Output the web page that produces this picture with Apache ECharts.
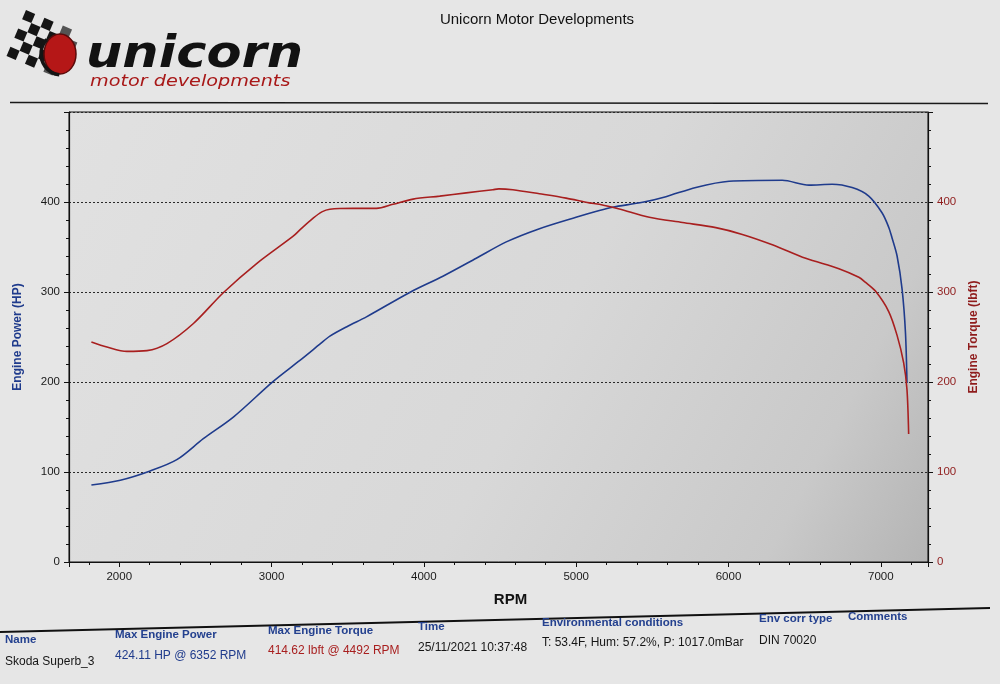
<!DOCTYPE html>
<html>
<head>
<meta charset="utf-8">
<script src="https://cdn.jsdelivr.net/npm/echarts@6/dist/echarts.min.js"></script>
<style>
html,body{margin:0;padding:0;background:#e6e6e6;}
#chart{width:1000px;height:684px;}
</style>
</head>
<body>
<div id="chart"></div>
<script>
// ---- Data read from the dyno sheet ----
const powerRpm = [1817, 2007, 2203, 2378, 2552, 2749, 3011, 3186, 3317, 3383, 3500, 3623, 3907, 4125, 4344, 4541, 4759, 4999, 5152, 5239, 5436, 5589, 5786, 6004, 6353, 6528, 6681, 6812, 6921, 7008, 7052, 7074, 7107, 7140, 7162, 7172];
const powerHp  = [85.5, 90.9, 101.2, 113.7, 137, 161, 200.7, 224, 242, 251, 262, 272.4, 299.5, 317.5, 337.5, 355.7, 370.4, 383.1, 390.6, 394.2, 399.7, 405.9, 416.2, 423, 424.1, 418.7, 419.8, 416, 406.6, 388, 372, 360, 340, 303, 255, 199];
const torqueRpm = [1817, 1919, 2050, 2182, 2313, 2487, 2683, 2902, 3142, 3186, 3273, 3330, 3383, 3535, 3689, 3797, 3929, 4104, 4278, 4453, 4492, 4584, 4759, 4934, 5086, 5152, 5283, 5480, 5698, 5917, 6091, 6288, 6507, 6725, 6856, 6900, 6965, 7052, 7107, 7150, 7172, 7183];
const torqueLbft = [244.5, 238.9, 234, 234.9, 242.7, 265, 299.2, 331.6, 362, 369, 382, 389, 392, 393, 392.9, 397.4, 403.2, 406.5, 410.1, 413.7, 414.6, 413.6, 409.1, 404.3, 399, 397.5, 392.2, 383, 377.2, 371.5, 364, 352.5, 337.4, 325.9, 316.3, 310.7, 301, 278.3, 251.8, 221.5, 191.5, 142.3];
const rpmTicks = [2000, 3000, 4000, 5000, 6000, 7000];
const leftTicks = [0, 100, 200, 300, 400];
const rightTicks = [0, 100, 200, 300, 400];

const title = 'Unicorn Motor Developments';
const tableHeads = ['Name', 'Max Engine Power', 'Max Engine Torque', 'Time', 'Environmental conditions', 'Env corr type', 'Comments'];
const tableVals  = ['Skoda Superb_3', '424.11 HP @ 6352 RPM', '414.62 lbft @ 4492 RPM', '25/11/2021 10:37:48', 'T: 53.4F, Hum: 57.2%, P: 1017.0mBar', 'DIN 70020', ''];

const BLUE = '#1f3b8c';
const RED = '#a81f1f';
const HEAD = '#24418f';

const chart = echarts.init(document.getElementById('chart'));

// checkered flag squares
const checkers = [];
for (let r = 0; r < 5; r++) {
  for (let c = 0; c < 6; c++) {
    if ((r + c) % 2 === 0) {
      checkers.push({type: 'rect', shape: {x: c * 10, y: r * 10, width: 10, height: 10},
        style: {fill: '#151515', opacity: c > 3 ? 0.7 : 1}});
    }
  }
}

const headX = [5, 115, 268, 418, 542, 759, 848];
const headY = [640, 635, 631, 627, 623, 619, 617];
const valY  = [662, 656, 651, 648, 643, 641, 640];
const valColors = ['#151515', BLUE, RED, '#151515', '#151515', '#151515', '#151515'];
const tableGraphics = [];
tableHeads.forEach((h, i) => {
  tableGraphics.push({type: 'text', x: headX[i], y: headY[i],
    style: {text: h, fill: HEAD, font: 'bold 11.5px "Liberation Sans", Arial, sans-serif', textVerticalAlign: 'middle'}});
  if (tableVals[i]) tableGraphics.push({type: 'text', x: headX[i], y: valY[i],
    style: {text: tableVals[i], fill: valColors[i], font: '12px "Liberation Sans", Arial, sans-serif', textVerticalAlign: 'middle'}});
});

const option = {
  backgroundColor: '#e6e6e6',
  animation: false,
  graphic: [
    {type: 'text', x: 537, y: 20, style: {text: title, fill: '#111', font: '15px "Liberation Sans", Arial, sans-serif', textAlign: 'center', textVerticalAlign: 'middle'}},
    {type: 'line', shape: {x1: 10, y1: 102.5, x2: 988, y2: 103.5}, style: {stroke: '#1a1a1a', lineWidth: 1.5}},
    {type: 'line', shape: {x1: 0, y1: 632, x2: 990, y2: 608}, style: {stroke: '#111', lineWidth: 2}},
    {type: 'group', x: 26, y: 10, rotation: -0.4, children: checkers},
    {type: 'ellipse', shape: {cx: 60, cy: 54, rx: 16, ry: 20}, style: {fill: '#b51717', stroke: '#5a0a0a', lineWidth: 1.5}},
    {type: 'arc', shape: {cx: 62, cy: 54, r: 21, startAngle: 1.7, endAngle: 3.9}, style: {stroke: '#151515', lineWidth: 3.5, fill: null}},
    {type: 'text', x: 86, y: 78, scaleX: 1.16, style: {text: 'unicorn', fill: '#121212', font: 'italic bold 44px "DejaVu Sans", sans-serif', textVerticalAlign: 'bottom'}},
    {type: 'text', x: 90, y: 82, scaleX: 1.2, style: {text: 'motor developments', fill: '#a81818', font: 'italic 16px "DejaVu Sans", sans-serif', textVerticalAlign: 'middle'}},
    ...tableGraphics
  ],
  grid: {
    left: 69, right: 72, top: 112, bottom: 122,
    show: true,
    borderColor: '#111', borderWidth: 1,
    backgroundColor: {type: 'linear', x: 0, y: 0, x2: 1, y2: 1, colorStops: [
      {offset: 0, color: '#e1e1e1'}, {offset: 0.55, color: '#d8d8d8'}, {offset: 0.85, color: '#c9c9c9'}, {offset: 1, color: '#b4b4b4'}]}
  },
  xAxis: [{
    type: 'value', min: 1670, max: 7310,
    name: 'RPM', nameLocation: 'middle', nameGap: 30,
    nameTextStyle: {color: '#111', fontSize: 15, fontWeight: 'bold', fontFamily: '"Liberation Sans", Arial, sans-serif', padding: [0, 0, 0, 24]},
    axisLine: {show: true, lineStyle: {color: '#111', width: 1.2}},
    axisTick: {show: true, inside: false, length: 5, lineStyle: {color: '#111'}},
    minorTick: {show: true, splitNumber: 5, length: 3, lineStyle: {color: '#111'}},
    axisLabel: {color: '#1a1a1a', fontSize: 11.5, margin: 9, fontFamily: '"Liberation Sans", Arial, sans-serif', showMinLabel: false, showMaxLabel: false,
      formatter: v => rpmTicks.includes(Math.round(v)) ? String(Math.round(v)) : ''},
    splitLine: {show: false}
  }, {
    type: 'value', min: 1670, max: 7310, position: 'top', gridIndex: 0,
    axisLine: {show: true, lineStyle: {color: '#111'}},
    axisTick: {show: true, inside: true, length: 4, lineStyle: {color: '#111'}},
    minorTick: {show: true, splitNumber: 5, length: 3, lineStyle: {color: '#111'}},
    axisLabel: {show: false},
    splitLine: {show: false}
  }],
  yAxis: [{
    type: 'value', min: 0, max: 500, interval: 100, position: 'left',
    name: 'Engine Power (HP)', nameLocation: 'middle', nameGap: 45, nameRotate: 90,
    nameTextStyle: {color: BLUE, fontSize: 12, fontWeight: 'bold', fontFamily: '"Liberation Sans", Arial, sans-serif'},
    axisLine: {show: true, lineStyle: {color: '#111', width: 1.2}},
    axisTick: {show: true, length: 5, lineStyle: {color: '#111'}},
    minorTick: {show: true, splitNumber: 5, length: 3, lineStyle: {color: '#111'}},
    axisLabel: {color: '#1a1a1a', fontSize: 11.5, margin: 9, fontFamily: '"Liberation Sans", Arial, sans-serif',
      formatter: v => leftTicks.includes(v) ? String(v) : ''},
    splitLine: {show: true, lineStyle: {color: '#2a2a2a', type: [2, 2], width: 1}}
  }, {
    type: 'value', min: 0, max: 500, interval: 100, position: 'right',
    name: 'Engine Torque (lbft)', nameLocation: 'middle', nameGap: 40, nameRotate: 90,
    nameTextStyle: {color: '#8f1c1c', fontSize: 12, fontWeight: 'bold', fontFamily: '"Liberation Sans", Arial, sans-serif'},
    axisLine: {show: true, lineStyle: {color: '#111', width: 1.2}},
    axisTick: {show: true, length: 5, lineStyle: {color: '#111'}},
    minorTick: {show: true, splitNumber: 5, length: 3, lineStyle: {color: '#111'}},
    axisLabel: {color: '#8f1c1c', fontSize: 11.5, margin: 9, fontFamily: '"Liberation Sans", Arial, sans-serif',
      formatter: v => rightTicks.includes(v) ? String(v) : ''},
    splitLine: {show: false}
  }],
  series: [{
    name: 'Engine Power', type: 'line', xAxisIndex: 0, yAxisIndex: 0,
    data: powerRpm.map((r, i) => [r, powerHp[i]]),
    smooth: 0.3, showSymbol: false, symbol: 'none',
    lineStyle: {color: BLUE, width: 1.6}
  }, {
    name: 'Engine Torque', type: 'line', xAxisIndex: 0, yAxisIndex: 1,
    data: torqueRpm.map((r, i) => [r, torqueLbft[i]]),
    smooth: 0.3, showSymbol: false, symbol: 'none',
    lineStyle: {color: RED, width: 1.6}
  }]
};
chart.setOption(option);
</script>
</body>
</html>
